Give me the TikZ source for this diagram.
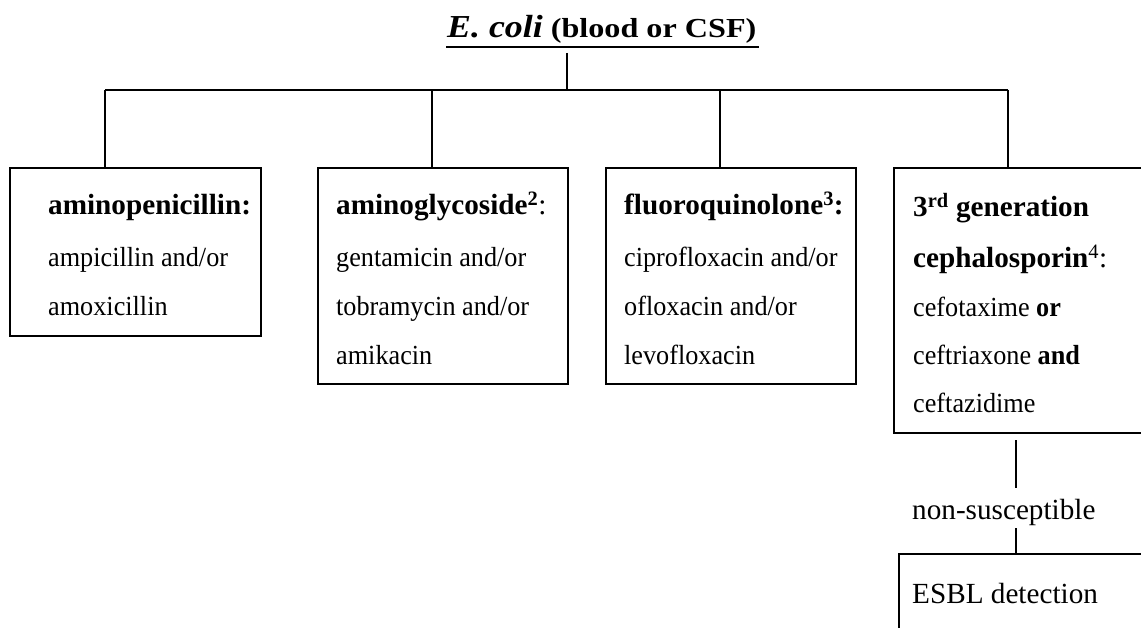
\documentclass[tikz,border=0pt]{standalone}
\usepackage{fontspec}
\setmainfont{Liberation Serif}
\usepackage{graphicx}
\newcommand{\cond}[1]{\scalebox{0.95}[1]{#1}}
\tikzset{
  box/.style={draw=black, line width=1.8pt, rectangle, inner sep=0pt, anchor=north west},
  conn/.style={draw=black, line width=1.8pt},
  txt/.style={anchor=base west, inner sep=0pt, font=\fontsize{27.6}{49}\selectfont},
  head/.style={anchor=base west, inner sep=0pt, font=\fontsize{29.2}{49}\selectfont},
}
\begin{document}
\begin{tikzpicture}[x=1pt, y=-1pt]
\useasboundingbox (0,0) rectangle (1141,628);
\clip (0,0) rectangle (1141,628);
% title
\node[anchor=base west, inner sep=0pt] (title) at (447,38)
  {\scalebox{1.12}[1]{\fontsize{32}{32}\selectfont\bfseries\itshape E. coli}\scalebox{1.17}[1]{\fontsize{27.5}{27.5}\selectfont\bfseries\ (blood or CSF)}};
\coordinate (ulA) at (446,47);
\coordinate (ulB) at (759,47);
\draw[line width=2.7pt] (ulA) -- (ulB);
% boxes
\node[box, minimum width=251pt, minimum height=168pt] (b1) at (9,167) {};
\node[box, minimum width=250pt, minimum height=216pt] (b2) at (317,167) {};
\node[box, minimum width=250pt, minimum height=216pt] (b3) at (605,167) {};
\node[box, minimum width=300pt, minimum height=265pt] (b4) at (893,167) {};
\node[box, minimum width=300pt, minimum height=120pt] (b5) at (898,553) {};
% tree connectors
\coordinate (stemT) at (567,53);
\coordinate (stemB) at (567,90);
\coordinate (j1) at (105,90);
\coordinate (j2) at (432,90);
\coordinate (j3) at (720,90);
\coordinate (j4) at (1008,90);
\draw[conn] (stemT) -- (stemB);
\draw[conn] (j1) -- (j4);
\draw[conn] (j1) -- (j1 |- b1.north);
\draw[conn] (j2) -- (j2 |- b2.north);
\draw[conn] (j3) -- (j3 |- b3.north);
\draw[conn] (j4) -- (j4 |- b4.north);
% box texts
\node[head] (t11) at (48,215) {\textbf{aminopenicillin:}};
\node[txt] (t12) at (48,267) {\cond{ampicillin and/or}};
\node[txt] (t13) at (48,316) {\cond{amoxicillin}};
\node[head] (t21) at (336,215) {\textbf{aminoglycoside\textsuperscript{2}}:};
\node[txt] (t22) at (336,267) {\cond{gentamicin and/or}};
\node[txt] (t23) at (336,316) {\cond{tobramycin and/or}};
\node[txt] (t24) at (336,365) {\cond{amikacin}};
\node[head] (t31) at (624,215) {\textbf{fluoroquinolone\textsuperscript{3}:}};
\node[txt] (t32) at (624,267) {\cond{ciprofloxacin and/or}};
\node[txt] (t33) at (624,316) {\cond{ofloxacin and/or}};
\node[txt] (t34) at (624,365) {\cond{levofloxacin}};
\node[head] (t41) at (913,217) {\textbf{3\textsuperscript{rd} generation}};
\node[head] (t42) at (913,268) {\textbf{cephalosporin}\textsuperscript{4}:};
\node[txt] (t43) at (913,317) {\cond{cefotaxime \textbf{or}}};
\node[txt] (t44) at (913,365) {\cond{ceftriaxone \textbf{and}}};
\node[txt] (t45) at (913,413) {\cond{ceftazidime}};
% lower branch
\node[head] (ns) at (912,519) {non-susceptible};
\node[head] (esbl) at (912,603) {ESBL detection};
\coordinate (c1T) at (1016,440);
\coordinate (c1B) at (1016,488);
\coordinate (c2T) at (1016,528);
\draw[conn] (c1T) -- (c1B);
\draw[conn] (c2T) -- (c2T |- b5.north);
\end{tikzpicture}
\end{document}
